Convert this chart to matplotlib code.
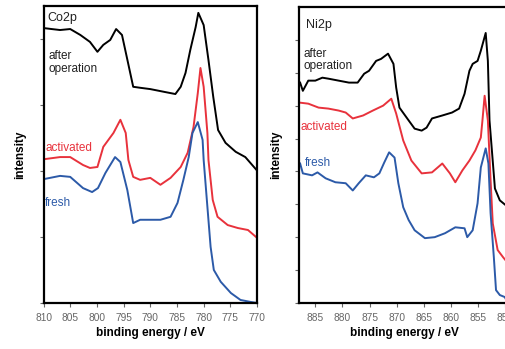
import numpy as np
import matplotlib
matplotlib.use("Agg")
import matplotlib.pyplot as plt

# Co2p spectra (binding energy / eV, intensity in arb. units)
co_e_after = [810.0, 808.5, 806.9, 805.0, 803.1, 801.3, 799.9, 798.8, 797.5, 796.4, 795.3, 794.4, 793.2,
              791.9, 790.0, 787.2, 785.3, 784.3, 783.4, 782.5, 781.5, 781.0, 780.0, 779.1, 778.2,
              777.3, 775.9, 774.0, 772.2, 770.1]
co_after = [8.33, 8.30, 8.27, 8.30, 8.12, 7.91, 7.61, 7.82, 7.97, 8.30, 8.12, 7.45, 6.55,
            6.52, 6.48, 6.39, 6.33, 6.55, 6.97, 7.67, 8.36, 8.79, 8.42, 7.36, 6.24,
            5.24, 4.85, 4.58, 4.42, 4.03]

co_e_act = [809.7, 806.9, 805.0, 802.6, 801.3, 799.9, 798.8, 796.9, 795.6, 794.6, 794.1, 793.2,
            791.9, 790.0, 788.1, 786.2, 784.3, 783.0, 781.9, 781.1, 780.6, 780.0, 779.3, 779.1,
            778.3, 777.4, 775.5, 773.6, 771.7, 770.2]
co_act = [4.36, 4.42, 4.42, 4.18, 4.09, 4.12, 4.73, 5.15, 5.55, 5.15, 4.33, 3.82,
          3.73, 3.79, 3.58, 3.79, 4.12, 4.55, 5.33, 6.36, 7.12, 6.55, 5.15, 4.33,
          3.12, 2.61, 2.36, 2.27, 2.21, 2.00]

co_e_fresh = [809.7, 806.9, 805.0, 802.6, 800.9, 799.8, 798.4, 796.6, 795.6, 794.3, 793.2, 791.9,
              790.0, 788.1, 786.2, 784.9, 783.8, 782.8, 782.1, 781.1, 780.2, 780.0, 779.3, 778.7,
              778.1, 776.8, 774.9, 773.1, 771.2, 770.0]
co_fresh = [3.76, 3.85, 3.82, 3.48, 3.36, 3.48, 3.94, 4.42, 4.27, 3.42, 2.42, 2.52,
            2.52, 2.52, 2.61, 3.03, 3.73, 4.42, 5.15, 5.48, 4.94, 4.33, 2.91, 1.70,
            1.00, 0.64, 0.30, 0.09, 0.03, 0.00]

# Ni2p spectra
ni_e_after = [887.8, 887.3, 886.3, 885.0, 883.7, 882.6, 880.7, 878.8, 877.2, 876.0, 875.1, 873.8,
              872.9, 871.6, 870.6, 870.1, 869.5, 867.8, 866.7, 865.4, 864.5, 863.5, 861.6, 859.8,
              858.5, 857.5, 856.6, 856.0, 855.1, 854.5, 853.6, 853.2, 852.9, 851.9, 851.0, 849.9]
ni_after = [6.70, 6.45, 6.76, 6.76, 6.85, 6.82, 6.76, 6.70, 6.70, 6.97, 7.06, 7.36,
            7.42, 7.58, 7.27, 6.55, 5.94, 5.55, 5.30, 5.24, 5.33, 5.61, 5.70, 5.79,
            5.91, 6.36, 7.06, 7.27, 7.36, 7.67, 8.21, 7.36, 5.55, 3.48, 3.12, 2.97]

ni_e_act = [887.8, 886.3, 884.4, 882.6, 880.7, 879.4, 878.1, 876.2, 874.4, 872.5, 871.0, 870.1,
            868.8, 867.3, 865.4, 863.5, 861.6, 860.2, 859.2, 857.9, 856.6, 855.5, 854.5, 854.2,
            853.8, 853.2, 852.7, 852.3, 851.4, 850.4, 849.5]
ni_act = [6.09, 6.06, 5.94, 5.91, 5.85, 5.79, 5.61, 5.70, 5.85, 6.00, 6.21, 5.76,
          4.94, 4.33, 3.94, 3.97, 4.24, 3.94, 3.67, 4.03, 4.33, 4.64, 5.03, 5.55,
          6.30, 5.55, 3.73, 2.42, 1.61, 1.39, 1.21]

ni_e_fresh = [887.8, 887.3, 885.6, 884.6, 883.1, 881.3, 879.4, 878.1, 877.0, 875.7, 874.2, 873.2,
              872.3, 871.4, 870.4, 869.7, 868.8, 867.8, 866.7, 864.8, 863.0, 861.1, 859.2, 857.5,
              857.0, 856.0, 855.1, 854.5, 853.6, 853.1, 852.7, 852.1, 851.7, 851.0, 850.1, 849.5]
ni_fresh = [4.24, 3.94, 3.88, 3.97, 3.79, 3.67, 3.64, 3.42, 3.64, 3.88, 3.82, 3.94,
            4.27, 4.58, 4.42, 3.64, 2.91, 2.52, 2.21, 1.97, 2.00, 2.12, 2.30, 2.27,
            2.00, 2.21, 3.03, 4.12, 4.70, 4.24, 2.73, 1.39, 0.39, 0.24, 0.18, 0.00]

co_ticks = [810, 805, 800, 795, 790, 785, 780, 775, 770]
ni_ticks = [885, 880, 875, 870, 865, 860, 855, 850]

BLACK = '#000000'
RED = '#e8323c'
BLUE = '#2c5aa8'
GREY = '#666666'

plt.rcParams['font.family'] = ['Liberation Sans', 'DejaVu Sans']

fig = plt.figure(figsize=(5.06, 3.49), dpi=100)
ax1 = fig.add_axes([0.086, 0.132, 0.422, 0.851])
ax2 = fig.add_axes([0.591, 0.132, 0.415, 0.848])

def style(ax, xlim, xticks, yticks):
    ax.set_xlim(*xlim)
    ax.set_ylim(0, 9)
    ax.set_xticks(xticks)
    ax.set_yticks(yticks)
    ax.set_yticklabels([])
    ax.tick_params(axis='both', direction='out', length=3, width=0.8,
                   color=GREY, labelcolor=GREY, labelsize=7.3)
    ax.tick_params(axis='x', pad=4)
    for s in ax.spines.values():
        s.set_linewidth(1.6)
    ax.set_xlabel('binding energy / eV', fontsize=8.5, fontweight='bold', labelpad=3)
    ax.set_ylabel('intensity', fontsize=8.5, fontweight='bold', labelpad=6)

lw = 1.4
ax1.plot(co_e_after, co_after, color=BLACK, lw=lw)
ax1.plot(co_e_act, co_act, color=RED, lw=lw)
ax1.plot(co_e_fresh, co_fresh, color=BLUE, lw=lw)
style(ax1, (810, 770), co_ticks, [0, 2, 4, 6, 8])

ax2.plot(ni_e_after, ni_after, color=BLACK, lw=lw)
ax2.plot(ni_e_act, ni_act, color=RED, lw=lw)
ax2.plot(ni_e_fresh, ni_fresh, color=BLUE, lw=lw)
style(ax2, (888, 849.3), ni_ticks, list(range(9)))
ax2.spines['right'].set_visible(False)

fs = 8.5
ax1.text(809.3, 8.55, 'Co2p', fontsize=9, color='#222222')
ax1.text(809.0, 7.0, 'after\noperation', fontsize=fs, color='#222222', linespacing=1.05)
ax1.text(809.7, 4.6, 'activated', fontsize=fs, color=RED)
ax1.text(809.7, 2.95, 'fresh', fontsize=fs, color=BLUE)

ax2.text(886.8, 8.35, 'Ni2p', fontsize=9, color='#222222')
ax2.text(887.2, 7.1, 'after\noperation', fontsize=fs, color='#222222', linespacing=1.05)
ax2.text(887.8, 5.25, 'activated', fontsize=fs, color=RED)
ax2.text(887.0, 4.15, 'fresh', fontsize=fs, color=BLUE)

fig.savefig('out.png', dpi=100)
